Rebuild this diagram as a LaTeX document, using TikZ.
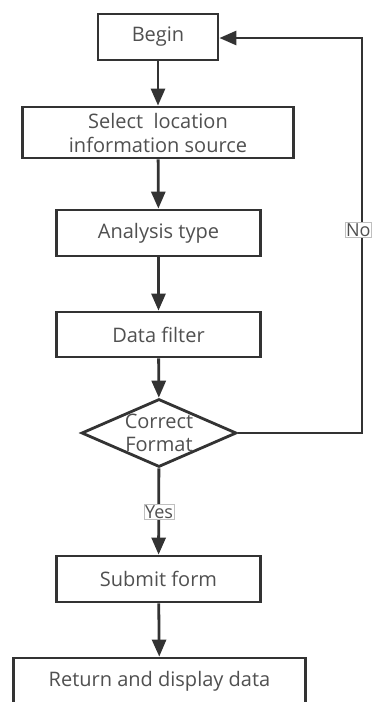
\documentclass[tikz,border=0pt]{standalone}
\usepackage{fontspec}
\setmainfont{Open Sans}
\usetikzlibrary{shapes.geometric,arrows.meta}
\definecolor{ln}{HTML}{333333}
\definecolor{tx}{HTML}{505050}
\tikzset{
  box/.style={draw=ln,line width=2.8pt,rectangle,inner sep=0pt,align=center,text=tx,font=\fontsize{20}{24}\selectfont},
  dia/.style={draw=ln,line width=2.8pt,diamond,aspect=2.26,inner sep=0pt,align=center,text=tx,font=\fontsize{20}{23}\selectfont},
  arr/.style={draw=ln,line width=2.8pt,-{Triangle[width=14pt,length=17pt]}},
  lab/.style={draw=black!25,line width=0.6pt,fill=white,text=tx,inner sep=1.2pt,font=\fontsize{18}{20}\selectfont}
}
\begin{document}
\begin{tikzpicture}[x=1pt,y=-1pt]
\useasboundingbox (0,0) rectangle (373,702);
\clip (0,0) rectangle (373,702);
\fill[white] (0,0) rectangle (373,702);
\node[box,minimum width=120,minimum height=46] (begin) at (158,37) {Begin};
\node[box,minimum width=271,minimum height=51] (select) at (158,132.5) {Select\ \ location\\information source};
\node[box,minimum width=204,minimum height=46] (analysis) at (158.5,233) {Analysis type};
\node[box,minimum width=204,minimum height=45] (filter) at (158.5,334.5) {Data filter};
\node[dia,minimum width=155,minimum height=68] (fmt) at (159,433) {Correct\\Format};
\node[box,minimum width=204,minimum height=46] (submit) at (158.5,579) {Submit form};
\node[box,minimum width=292,minimum height=46] (ret) at (159.5,681) {Return and display data};
\coordinate (c1) at (362,433);
\coordinate (c2) at (362,38);
\draw[arr] (begin) -- (select);
\draw[arr] (select) -- (analysis);
\draw[arr] (analysis) -- (filter);
\draw[arr] (filter) -- (fmt);
\draw[arr] (fmt) -- (submit);
\draw[arr] (submit) -- (ret);
\draw[arr] (fmt.east) -- (c1) -- (c2) -- (begin.east |- c2);
\node[lab,anchor=east] (no) at (372,230) {No};
\node[lab] (yes) at (159,512) {Yes};
\end{tikzpicture}
\end{document}
